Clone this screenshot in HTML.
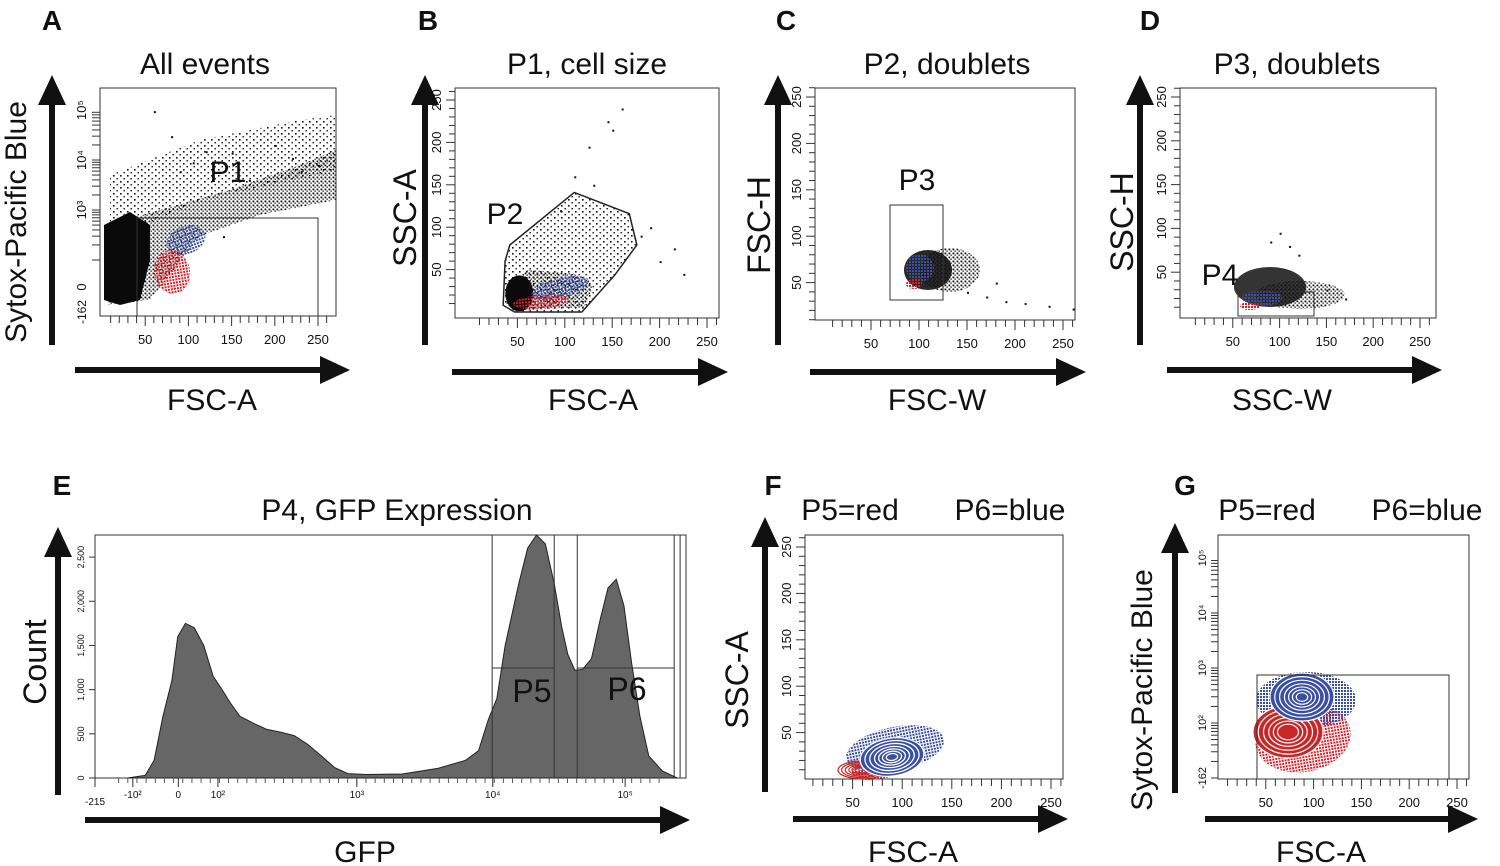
<!DOCTYPE html>
<html><head><meta charset="utf-8"><style>
html,body{margin:0;padding:0;background:#fff}
svg{display:block}
text{font-family:"Liberation Sans",sans-serif;fill:#111}
</style></head><body>
<svg id="fig" width="1500" height="866" viewBox="0 0 1500 866" xmlns="http://www.w3.org/2000/svg">
<defs>
<pattern id="pSparse" width="7" height="6" patternUnits="userSpaceOnUse"><rect x="1" y="1" width="1.6" height="1.6" fill="#111"/><rect x="4.5" y="4" width="1.4" height="1.4" fill="#111"/></pattern>
<pattern id="pMid" width="4" height="4" patternUnits="userSpaceOnUse"><rect x="0.5" y="0.5" width="1.8" height="1.8" fill="#111"/><rect x="2.5" y="2.5" width="1.3" height="1.3" fill="#111"/></pattern>
<pattern id="pBlue" width="3" height="3" patternUnits="userSpaceOnUse"><rect x="0" y="0" width="2" height="2" fill="#3b4fa0"/></pattern>
<pattern id="pRed" width="3" height="3" patternUnits="userSpaceOnUse"><rect x="0" y="0" width="2" height="2" fill="#d4212b"/></pattern>
</defs>
</svg>
<script>
// ---- data ----
const linTicks=[50,100,150,200,250];
const histPos=[0.055,0.085,0.1,0.115,0.13,0.14,0.153,0.168,0.184,0.2,0.215,0.229,0.245,0.268,0.291,0.314,0.337,0.36,0.383,0.405,0.428,0.459,0.52,0.581,0.627,0.649,0.665,0.68,0.694,0.717,0.732,0.747,0.762,0.777,0.79,0.8,0.812,0.825,0.84,0.855,0.868,0.882,0.895,0.908,0.922,0.937,0.96,0.985];
const histCounts=[0,30,200,700,1100,1600,1750,1700,1500,1150,1000,850,700,620,550,520,480,380,250,120,50,40,45,110,200,310,650,900,1500,2200,2600,2750,2650,2200,1700,1400,1220,1230,1350,1800,2150,2250,1950,1300,700,250,80,0];
const histYTicks=[0,500,1000,1500,2000,2500];
const histYLabels=["0","500","1,000","1,500","2,000","2,500"];
const gfpTickPos=[0.0,0.064,0.141,0.208,0.443,0.673,0.897];
const gfpTickLabels=["-215","-10²","0","10²","10³","10⁴","10⁵"];
const gateLines=[0.672,0.777,0.816,0.98];
const gateCount=1245;
const outliersA=[[60,95000],[105,9000],[80,30000],[150,14000],[200,20000],[170,4000],[220,11000],[140,300],[230,6000],[90,6000],[120,15000],[250,8000]];
const outliersB=[[125,195],[145,225],[160,240],[150,215],[110,160],[130,150],[180,90],[200,60],[225,45],[215,75],[190,100],[95,120]];
const outliersC=[[150,40],[170,35],[190,30],[210,28],[235,25],[260,22],[180,50]];
const outliersD=[[100,95],[110,80],[150,30],[170,20],[120,70],[90,85]];
const contourBlueF=[1,0.85,0.7,0.55,0.42,0.3,0.18];
const contourRedF=[1,0.85,0.7,0.55,0.42,0.3];

const svg=document.getElementById('fig');
const NS='http://www.w3.org/2000/svg';
function el(tag,attrs,parent,name,txt){
  const e=document.createElementNS(NS,tag);
  for(const k in attrs)e.setAttribute(k,attrs[k]);
  
  
  if(txt!==undefined)e.textContent=txt;
  (parent||svg).appendChild(e);return e;
}
function arrow(x1,y1,x2,y2,name){
  const g=el('g',{},svg,name);
  const dx=x2-x1,dy=y2-y1,L=Math.hypot(dx,dy),ux=dx/L,uy=dy/L;
  const hx=x2-ux*30,hy=y2-uy*30;
  el('line',{x1:x1,y1:y1,x2:hx,y2:hy,stroke:'#111','stroke-width':6},g,name+'-shaft');
  el('polygon',{points:`${x2},${y2} ${hx-uy*14},${hy+ux*14} ${hx+uy*14},${hy-ux*14}`,fill:'#111'},g,name+'-head');
}
function text(x,y,s,size,name,opts={}){
  const a={x:x,y:y,'font-size':size,'text-anchor':opts.anchor||'middle'};
  if(opts.bold)a['font-weight']='bold';
  if(opts.rot!==undefined)a.transform=`rotate(${opts.rot} ${x} ${y})`;
  return el('text',a,svg,name,s);
}
function linScale(v0,p0,v1,p1){return v=>p0+(v-v0)*(p1-p0)/(v1-v0);}
function logY(p3,p4){return v=>{const l=Math.log10(Math.max(v,1));return p3+(l-3)*(p4-p3);};}
function box(x0,y0,x1,y1,name){el('rect',{x:x0,y:y0,width:x1-x0,height:y1-y0,fill:'none',stroke:'#333','stroke-width':1},svg,name);}
function xTicks(sx,y,name){
  const g=el('g',{},svg,name);
  for(let v=10;v<=260;v+=10){const X=sx(v);el('line',{x1:X,y1:y,x2:X,y2:y+(v%50==0?10:7),stroke:'#333','stroke-width':1},g,'tick');}
  linTicks.forEach(v=>el('text',{x:sx(v),y:y+28,'font-size':13,'text-anchor':'middle'},g,'tick-label',String(v)));
}
function yTicksLin(sy,x,name){
  const g=el('g',{},svg,name);
  for(let v=10;v<=260;v+=10){const Y=sy(v);el('line',{x1:x,y1:Y,x2:x-(v%50==0?9:6),y2:Y,stroke:'#333','stroke-width':1},g,'tick');}
  linTicks.forEach(v=>{const Y=sy(v);el('text',{x:x-14,y:Y,'font-size':13,'text-anchor':'middle',transform:`rotate(-90 ${x-14} ${Y})`},g,'tick-label',String(v));});
}
function dots(pts,sx,sy,name,col){const g=el('g',{},svg,name);pts.forEach(p=>el('rect',{x:sx(p[0]),y:sy(p[1]),width:2,height:2,fill:col||'#111'},g,'event-dot'));}
function blob(cx,cy,rx,ry,rot,fill,op,name){el('ellipse',{cx:cx,cy:cy,rx:rx,ry:ry,fill:fill,opacity:op,transform:`rotate(${rot} ${cx} ${cy})`},svg,name);}

// ---- Panel A ----
text(52,30,'A',28,'panel-a-letter',{bold:true});
text(205,74,'All events',30,'panel-a-title');
arrow(52,345,52,75,'panel-a-y-arrow');arrow(75,370,350,370,'panel-a-x-arrow');
text(26,222,'Sytox-Pacific Blue',30,'panel-a-y-title',{rot:-90});
text(212,410,'FSC-A',30,'panel-a-x-title');
box(100,88,336,316,'panel-a-plot-area');
const axA=linScale(0,102,250,318),ayA=logY(210,160);
xTicks(axA,316,'panel-a-x-ticks');
{const g=el('g',{},svg,'panel-a-y-ticks');
 [[3,'10³'],[4,'10⁴'],[5,'10⁵']].forEach(d=>{const Y=ayA(Math.pow(10,d[0]));el('text',{x:86,y:Y,'font-size':13,'text-anchor':'middle',transform:`rotate(-90 86 ${Y})`},g,'tick-label',d[1]);
  for(let k=1;k<10;k++){const yy=ayA(k*Math.pow(10,d[0]-1));el('line',{x1:100,y1:yy,x2:92,y2:yy,stroke:'#333'},g,'tick');}});
 el('text',{x:86,y:287,'font-size':13,'text-anchor':'middle',transform:'rotate(-90 86 287)'},g,'tick-label','0');
 el('text',{x:86,y:300,'font-size':12,'text-anchor':'end',transform:'rotate(-90 86 300)'},g,'tick-label','-162');
}
el('polygon',{points:'110,175 200,140 300,120 336,115 336,170 200,200 110,240',fill:'url(#pSparse)'},svg,'panel-a-sparse-events');
el('polygon',{points:'108,225 160,210 230,190 300,165 336,150 336,200 260,215 200,236 150,300 108,305',fill:'url(#pMid)'},svg,'panel-a-mid-events');
el('polygon',{points:'104,225 130,212 150,225 150,260 140,300 120,305 104,300',fill:'#0a0a0a'},svg,'panel-a-debris-events');
blob(186,240,20,14,-20,'url(#pBlue)',1,'panel-a-blue-events');
blob(172,272,18,22,-10,'url(#pRed)',1,'panel-a-red-events');
dots(outliersA,axA,ayA,'panel-a-outliers');
el('rect',{x:137,y:218,width:181,height:98,fill:'none',stroke:'#333'},svg,'panel-a-gate-p1');
text(228,182,'P1',30,'panel-a-gate-label');

// ---- Panel B ----
text(428,30,'B',28,'panel-b-letter',{bold:true});
text(587,74,'P1, cell size',30,'panel-b-title');
arrow(425,345,425,75,'panel-b-y-arrow');arrow(452,372,728,372,'panel-b-x-arrow');
text(416,218,'SSC-A',32,'panel-b-y-title',{rot:-90});
text(593,410,'FSC-A',30,'panel-b-x-title');
box(455,88,719,318,'panel-b-plot-area');
const axB=linScale(0,470,250,707),ayB=linScale(0,312,250,100);
xTicks(axB,318,'panel-b-x-ticks');yTicksLin(ayB,455,'panel-b-y-ticks');
const gateB=[[42,79],[110,141],[168,116],[176,79],[153,44],[118,0],[47,0],[35,8],[37,60]];
el('polygon',{points:gateB.map(p=>axB(p[0])+','+ayB(p[1])).join(' '),fill:'url(#pSparse)'},svg,'panel-b-event-cloud');
el('polygon',{points:[[38,10],[60,50],[110,45],[130,30],[120,5],[45,2]].map(p=>axB(p[0])+','+ayB(p[1])).join(' '),fill:'url(#pMid)'},svg,'panel-b-mid-events');
blob(axB(52),axB?ayB(22):0,14,18,0,'#0a0a0a',1,'panel-b-dense-events');
blob(axB(95),ayB(28),30,10,-15,'url(#pBlue)',1,'panel-b-blue-events');
blob(axB(75),ayB(12),28,7,-5,'url(#pRed)',1,'panel-b-red-events');
dots(outliersB,axB,ayB,'panel-b-outliers');
el('polygon',{points:gateB.map(p=>axB(p[0])+','+ayB(p[1])).join(' '),fill:'none',stroke:'#222','stroke-width':1.5},svg,'panel-b-gate-p2');
text(505,224,'P2',30,'panel-b-gate-label');

// ---- Panel C ----
text(786,30,'C',28,'panel-c-letter',{bold:true});
text(947,74,'P2, doublets',30,'panel-c-title');
arrow(778,345,778,75,'panel-c-y-arrow');arrow(810,372,1086,372,'panel-c-x-arrow');
text(770,225,'FSC-H',32,'panel-c-y-title',{rot:-90});
text(937,410,'FSC-W',30,'panel-c-x-title');
box(815,88,1075,320,'panel-c-plot-area');
const axC=linScale(0,823,250,1063),ayC=linScale(0,329,250,97);
xTicks(axC,320,'panel-c-x-ticks');yTicksLin(ayC,815,'panel-c-y-ticks');
blob(950,270,30,22,0,'url(#pMid)',1,'panel-c-black-tail');
blob(928,270,24,20,0,'#111',0.9,'panel-c-black-events');
blob(920,268,14,14,0,'url(#pBlue)',1,'panel-c-blue-events');
blob(914,284,8,5,0,'url(#pRed)',1,'panel-c-red-events');
dots(outliersC,axC,ayC,'panel-c-outliers');
el('rect',{x:890,y:205,width:53,height:95,fill:'none',stroke:'#333'},svg,'panel-c-gate-p3');
text(917,190,'P3',30,'panel-c-gate-label');

// ---- Panel D ----
text(1150,30,'D',28,'panel-d-letter',{bold:true});
text(1297,74,'P3, doublets',30,'panel-d-title');
arrow(1140,345,1140,75,'panel-d-y-arrow');arrow(1167,370,1442,370,'panel-d-x-arrow');
text(1133,222,'SSC-H',32,'panel-d-y-title',{rot:-90});
text(1282,410,'SSC-W',30,'panel-d-x-title');
box(1180,88,1436,318,'panel-d-plot-area');
const axD=linScale(0,1186,250,1420),ayD=linScale(0,316,250,97);
xTicks(axD,318,'panel-d-x-ticks');yTicksLin(ayD,1180,'panel-d-y-ticks');
blob(1300,295,45,14,0,'url(#pMid)',1,'panel-d-black-tail');
blob(1270,287,36,20,0,'#111',0.85,'panel-d-black-events');
blob(1262,298,20,8,0,'url(#pBlue)',1,'panel-d-blue-events');
blob(1250,306,10,4,0,'url(#pRed)',1,'panel-d-red-events');
dots(outliersD,axD,ayD,'panel-d-outliers');
el('rect',{x:1238,y:292,width:76,height:24,fill:'none',stroke:'#333'},svg,'panel-d-gate-p4');
text(1220,285,'P4',30,'panel-d-gate-label');

// ---- Panel E histogram ----
text(62,495,'E',28,'panel-e-letter',{bold:true});
text(397,520,'P4, GFP Expression',30,'panel-e-title');
arrow(58,795,58,527,'panel-e-y-arrow');arrow(85,820,690,820,'panel-e-x-arrow');
text(46,662,'Count',32,'panel-e-y-title',{rot:-90});
text(365,862,'GFP',30,'panel-e-x-title');
const ex=linScale(0,95,1,686),ey=linScale(0,778,2750,535);
box(95,535,686,778,'panel-e-plot-area');
{let d=`M${ex(histPos[0])},${ey(0)}`;histPos.forEach((p,i)=>d+=` L${ex(p)},${ey(histCounts[i])}`);d+=` L${ex(histPos[histPos.length-1])},${ey(0)} Z`;
 el('path',{d:d,fill:'#666',stroke:'#222','stroke-width':1},svg,'panel-e-histogram');}
{const g=el('g',{},svg,'panel-e-y-ticks');
 histYTicks.forEach((v,i)=>{const Y=ey(v);el('line',{x1:95,y1:Y,x2:89,y2:Y,stroke:'#333'},g,'tick');el('text',{x:84,y:Y,'font-size':9,'text-anchor':'middle',transform:`rotate(-90 84 ${Y})`},g,'tick-label',histYLabels[i]);});
 const gx=el('g',{},svg,'panel-e-x-ticks');
 gfpTickPos.forEach((p,i)=>{const X=ex(p);el('line',{x1:X,y1:778,x2:X,y2:787,stroke:'#333'},gx,'tick');el('text',{x:X,y:i==0?805:798,'font-size':10,'text-anchor':'middle'},gx,'tick-label',gfpTickLabels[i]);});
 for(let k=0;k<60;k++){const p=0.04+k*0.0155;el('line',{x1:ex(p),y1:778,x2:ex(p),y2:783,stroke:'#555'},gx,'minor-tick');}
}
gateLines.forEach(p=>el('line',{x1:ex(p),y1:535,x2:ex(p),y2:778,stroke:'#333'},svg,'panel-e-gate-line'));
el('line',{x1:ex(gateLines[0]),y1:ey(gateCount),x2:ex(gateLines[1]),y2:ey(gateCount),stroke:'#333'},svg,'panel-e-gate-p5-top');
el('line',{x1:ex(gateLines[2]),y1:ey(gateCount),x2:ex(gateLines[3]),y2:ey(gateCount),stroke:'#333'},svg,'panel-e-gate-p6-top');
el('line',{x1:ex(0.99),y1:535,x2:ex(0.99),y2:778,stroke:'#333'},svg,'panel-e-gate-edge');
text(532,702,'P5',32,'panel-e-gate-p5-label');text(627,700,'P6',32,'panel-e-gate-p6-label');

// ---- Panel F ----
text(773,495,'F',28,'panel-f-letter',{bold:true});
text(850,520,'P5=red',30,'panel-f-legend-red');text(1010,520,'P6=blue',30,'panel-f-legend-blue');
arrow(765,792,765,517,'panel-f-y-arrow');arrow(793,819,1068,819,'panel-f-x-arrow');
text(748,680,'SSC-A',32,'panel-f-y-title',{rot:-90});
text(913,862,'FSC-A',30,'panel-f-x-title');
box(805,535,1063,779,'panel-f-plot-area');
const axF=linScale(0,803,250,1051),ayF=linScale(0,779,250,547);
xTicks(axF,779,'panel-f-x-ticks');yTicksLin(ayF,805,'panel-f-y-ticks');
blob(axF(75),ayF(10),26,10,-8,'url(#pRed)',1,'panel-f-red-events');
blob(895,749,50,22,-12,'url(#pBlue)',1,'panel-f-blue-events');
contourRedF.forEach(f=>el('ellipse',{cx:862,cy:770,rx:24*f,ry:9*f,fill:'none',stroke:'#c62828','stroke-width':1.2},svg,'panel-f-red-contour'));
contourBlueF.forEach(f=>el('ellipse',{cx:892,cy:757,rx:32*f,ry:19*f,fill:f==1?'#3b4fa0':'none',stroke:'#fff','stroke-width':1.3,transform:'rotate(-8 892 757)'},svg,'panel-f-blue-contour'));

// ---- Panel G ----
text(1185,495,'G',28,'panel-g-letter',{bold:true});
text(1267,520,'P5=red',30,'panel-g-legend-red');text(1427,520,'P6=blue',30,'panel-g-legend-blue');
arrow(1175,793,1175,523,'panel-g-y-arrow');arrow(1205,819,1478,819,'panel-g-x-arrow');
text(1152,690,'Sytox-Pacific Blue',30,'panel-g-y-title',{rot:-90});
text(1321,862,'FSC-A',30,'panel-g-x-title');
box(1218,535,1469,779,'panel-g-plot-area');
const axG=linScale(0,1218,250,1457),ayG=logY(668,613);
xTicks(axG,779,'panel-g-x-ticks');
{const g=el('g',{},svg,'panel-g-y-ticks');
 [[2,'10²'],[3,'10³'],[4,'10⁴'],[5,'10⁵']].forEach(d=>{const Y=ayG(Math.pow(10,d[0]));el('text',{x:1206,y:Y,'font-size':11,'text-anchor':'middle',transform:`rotate(-90 1206 ${Y})`},g,'tick-label',d[1]);
  for(let k=1;k<10;k++){const yy=ayG(k*Math.pow(10,d[0]-1));if(yy<779)el('line',{x1:1218,y1:yy,x2:1211,y2:yy,stroke:'#333'},g,'tick');}});
 el('text',{x:1206,y:778,'font-size':11,'text-anchor':'middle',transform:'rotate(-90 1206 778)'},g,'tick-label','-162');
}
blob(1303,738,48,34,-10,'url(#pRed)',1,'panel-g-red-events');
blob(1306,700,50,28,0,'url(#pBlue)',1,'panel-g-blue-events');
contourRedF.forEach(f=>el('ellipse',{cx:1288,cy:732,rx:35*f,ry:26*f,fill:f==1?'#c62828':'none',stroke:'#fff','stroke-width':1.2},svg,'panel-g-red-contour'));
contourBlueF.forEach(f=>el('ellipse',{cx:1302,cy:697,rx:32*f,ry:24*f,fill:f==1?'#3b4fa0':'none',stroke:'#fff','stroke-width':1.2},svg,'panel-g-blue-contour'));
el('rect',{x:1257,y:675,width:192,height:104,fill:'none',stroke:'#333'},svg,'panel-g-gate');
</script>
</body></html>
